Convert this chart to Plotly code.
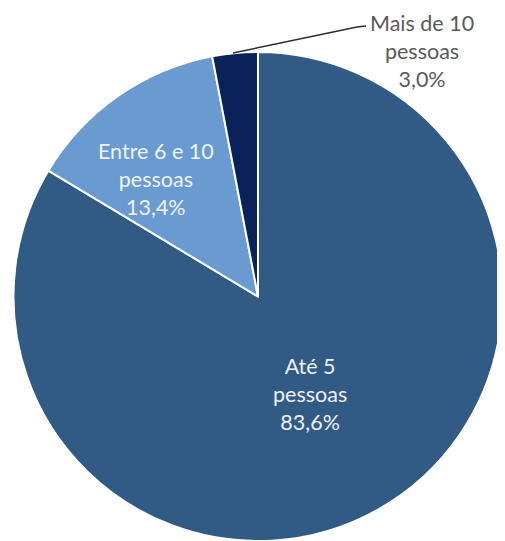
import plotly.graph_objects as go

labels = ['Até 5 pessoas', 'Entre 6 e 10 pessoas', 'Mais de 10 pessoas']
label_lines = ['Até 5<br>pessoas', 'Entre 6 e 10<br>pessoas', 'Mais de 10<br>pessoas']
values = [83.6, 13.4, 3.0]
colors = ['#315B85', '#6A9BD0', '#0A2259']

W, H = 505, 541
OFF = 8  # page body margin


def px(x):
    return (x - OFF) / W


def py(y):
    return 1 - (y - OFF) / H


fig = go.Figure()
fig.add_trace(go.Pie(
    labels=labels, values=values, sort=False, direction='clockwise', rotation=0,
    marker=dict(colors=colors, line=dict(color='white', width=2)),
    textinfo='none', hoverinfo='label+percent', showlegend=False,
    domain=dict(x=[px(13), px(503)], y=[py(541), py(52)]),
))

# label positions in pixels (center of each text block)
label_pos = [(310, 394), (156, 179), (422, 51)]
label_colors = ['#EEF2F7', '#EEF2F7', '#595959']
for txt, v, (x, y), c in zip(label_lines, values, label_pos, label_colors):
    fig.add_annotation(
        x=px(x), y=py(y), xref='paper', yref='paper',
        text=txt + '<br>' + f'{v:.1f}%'.replace('.', ','),
        showarrow=False, font=dict(family='Lato', size=21.5, color=c),
        xanchor='center', yanchor='middle', align='center',
    )

# leader line for the small slice
fig.add_shape(type='path', xref='paper', yref='paper',
              path=f'M {px(233)},{py(53)} L {px(357)},{py(27)} L {px(366)},{py(26)}',
              line=dict(color='#2b2b2b', width=1.5))

fig.update_layout(width=W, height=H, margin=dict(l=0, r=0, t=0, b=0),
                  paper_bgcolor='white', plot_bgcolor='white')
fig.write_html('out.html')
